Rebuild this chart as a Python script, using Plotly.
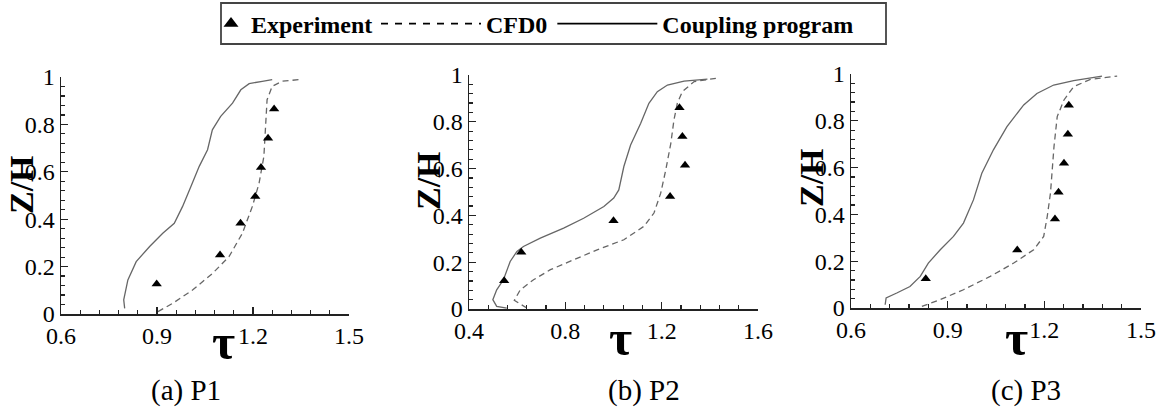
import plotly.graph_objects as go

# ---------------- data ----------------
# Panel (a) P1
p1_cpl_tau = [0.799, 0.796, 0.809, 0.835, 0.877, 0.918, 0.954, 0.980, 1.006, 1.032, 1.058, 1.073, 1.099, 1.136, 1.162, 1.188, 1.229, 1.260]
p1_cpl_z   = [0.024, 0.060, 0.144, 0.221, 0.285, 0.341, 0.383, 0.454, 0.538, 0.623, 0.693, 0.777, 0.834, 0.890, 0.946, 0.972, 0.982, 0.989]
p1_cfd_tau = [0.903, 0.949, 1.011, 1.074, 1.125, 1.167, 1.198, 1.219, 1.234, 1.239, 1.244, 1.260, 1.291, 1.343]
p1_cfd_z   = [0.010, 0.045, 0.101, 0.172, 0.242, 0.341, 0.454, 0.552, 0.665, 0.792, 0.904, 0.961, 0.982, 0.989]
p1_exp_tau = [0.899, 1.097, 1.161, 1.207, 1.225, 1.247, 1.266]
p1_exp_z   = [0.127, 0.249, 0.383, 0.496, 0.618, 0.742, 0.865]

# Panel (b) P2
p2_cpl_tau = [0.557, 0.515, 0.499, 0.515, 0.543, 0.560, 0.571, 0.599, 0.626, 0.696, 0.793, 0.876, 0.960, 1.001, 1.022, 1.043, 1.071, 1.113, 1.147, 1.182, 1.224, 1.293, 1.390]
p2_cpl_z   = [0.004, 0.011, 0.040, 0.082, 0.125, 0.168, 0.203, 0.246, 0.267, 0.303, 0.346, 0.388, 0.438, 0.474, 0.509, 0.609, 0.701, 0.794, 0.879, 0.929, 0.957, 0.974, 0.982]
p2_cfd_tau = [0.640, 0.588, 0.613, 0.668, 0.738, 0.835, 0.932, 1.043, 1.126, 1.168, 1.196, 1.217, 1.238, 1.251, 1.265, 1.286, 1.335, 1.425]
p2_cfd_z   = [0.004, 0.037, 0.082, 0.125, 0.168, 0.211, 0.253, 0.296, 0.353, 0.410, 0.495, 0.594, 0.708, 0.808, 0.879, 0.929, 0.972, 0.986]
p2_exp_tau = [0.546, 0.617, 1.000, 1.235, 1.297, 1.286, 1.274]
p2_exp_z   = [0.121, 0.243, 0.377, 0.481, 0.614, 0.737, 0.860]

# Panel (c) P3
p3_cpl_tau = [0.706, 0.709, 0.742, 0.783, 0.815, 0.840, 0.877, 0.918, 0.949, 0.980, 1.006, 1.042, 1.084, 1.136, 1.177, 1.229, 1.291, 1.379]
p3_cpl_z   = [0.014, 0.043, 0.064, 0.092, 0.135, 0.192, 0.249, 0.306, 0.363, 0.462, 0.576, 0.676, 0.775, 0.868, 0.917, 0.953, 0.972, 0.991]
p3_cfd_tau = [0.820, 0.877, 0.949, 1.032, 1.105, 1.167, 1.198, 1.209, 1.219, 1.224, 1.230, 1.240, 1.261, 1.291, 1.343, 1.426]
p3_cfd_z   = [0.007, 0.036, 0.078, 0.135, 0.192, 0.249, 0.306, 0.391, 0.491, 0.590, 0.690, 0.818, 0.889, 0.946, 0.977, 0.991]
p3_exp_tau = [0.832, 1.116, 1.233, 1.244, 1.261, 1.273, 1.276]
p3_exp_z   = [0.125, 0.248, 0.380, 0.495, 0.619, 0.742, 0.866]

captions = ["(a) P1", "(b) P2", "(c) P3"]
x_ranges = [[0.6, 1.5], [0.4, 1.6], [0.6, 1.5]]
x_dticks = [0.3, 0.4, 0.3]
legend_names = ["Experiment", "CFD0", "Coupling program"]

panels = [
    (p1_exp_tau, p1_exp_z, p1_cfd_tau, p1_cfd_z, p1_cpl_tau, p1_cpl_z),
    (p2_exp_tau, p2_exp_z, p2_cfd_tau, p2_cfd_z, p2_cpl_tau, p2_cpl_z),
    (p3_exp_tau, p3_exp_z, p3_cfd_tau, p3_cfd_z, p3_cpl_tau, p3_cpl_z),
]

# ---------------- layout geometry (pixels) ----------------
W, H = 1161, 410
px_x = [(61, 349), (469, 758), (851, 1141)]
px_y = [(77, 314), (75, 309), (74, 308)]   # (top, bottom)
zh_pos = [(22, 185), (429, 181), (811, 178)]
tau_pos = [(223, 342), (621, 338), (1016, 338)]
cap_pos = [(186, 390), (644, 390), (1026, 390)]

SERIF = "Liberation Serif, Times New Roman, serif"
LINE_COL = "#666666"

fig = go.Figure()

for i, (et, ez, ct, cz, pt, pz) in enumerate(panels):
    xa = "x" if i == 0 else f"x{i+1}"
    ya = "y" if i == 0 else f"y{i+1}"
    fig.add_trace(go.Scatter(x=ct, y=cz, mode="lines", xaxis=xa, yaxis=ya,
                             line=dict(color=LINE_COL, width=1.3, dash="6px,4px"),
                             showlegend=False))
    fig.add_trace(go.Scatter(x=pt, y=pz, mode="lines", xaxis=xa, yaxis=ya,
                             line=dict(color=LINE_COL, width=1.3),
                             showlegend=False))
    fig.add_trace(go.Scatter(x=et, y=ez, mode="markers", xaxis=xa, yaxis=ya,
                             marker=dict(symbol="triangle-up", size=9, color="black"),
                             showlegend=False))

# legend entries
fig.add_trace(go.Scatter(x=[None], y=[None], mode="markers", name=legend_names[0],
                         marker=dict(symbol="triangle-up", size=13, color="black"),
                         legend="legend"))
fig.add_trace(go.Scatter(x=[None], y=[None], mode="lines", name=legend_names[1],
                         line=dict(color="black", width=1.6, dash="7px,7px"),
                         legend="legend2"))
fig.add_trace(go.Scatter(x=[None], y=[None], mode="lines", name=legend_names[2],
                         line=dict(color="black", width=1.6),
                         legend="legend2"))

layout = dict(width=W, height=H, margin=dict(l=0, r=0, t=0, b=0, autoexpand=False),
              paper_bgcolor="white", plot_bgcolor="white", autosize=False)

for i in range(3):
    xk = "xaxis" if i == 0 else f"xaxis{i+1}"
    yk = "yaxis" if i == 0 else f"yaxis{i+1}"
    xa = "x" if i == 0 else f"x{i+1}"
    ya = "y" if i == 0 else f"y{i+1}"
    x0, x1 = px_x[i]
    yt, yb = px_y[i]
    axis_common = dict(showline=True, linecolor="#222", linewidth=1.5, mirror=False,
                       ticks="inside", ticklen=7, tickwidth=1.2, tickcolor="#222",
                       showgrid=False, zeroline=False, automargin=False,
                       tickfont=dict(family=SERIF, size=24, color="black"))
    layout[xk] = dict(axis_common, domain=[x0 / W, x1 / W], range=x_ranges[i],
                      tick0=x_ranges[i][0], dtick=x_dticks[i], anchor=ya,
                      minor=dict(ticks="inside", ticklen=4, tickcolor="#222",
                                 dtick=x_dticks[i] / 5, tick0=x_ranges[i][0], showgrid=False))
    layout[yk] = dict(axis_common, domain=[(H - yb) / H, (H - yt) / H], range=[0, 1],
                      tick0=0, dtick=0.2, anchor=xa,
                      minor=dict(ticks="inside", ticklen=4, tickcolor="#222",
                                 dtick=0.04, tick0=0, showgrid=False))

annotations = []
for i in range(3):
    zx, zy = zh_pos[i]
    annotations.append(dict(text="Z/H", x=zx / W, y=(H - zy) / H, xref="paper", yref="paper",
                            showarrow=False, textangle=-90, xanchor="center", yanchor="middle",
                            font=dict(family=SERIF, size=34, color="black", weight="bold")))
    tx, ty = tau_pos[i]
    annotations.append(dict(text="τ", x=tx / W, y=(H - ty) / H, xref="paper", yref="paper",
                            showarrow=False, xanchor="center", yanchor="middle",
                            font=dict(family=SERIF, size=50, color="black", weight="bold")))
    cx, cy = cap_pos[i]
    annotations.append(dict(text=captions[i], x=cx / W, y=(H - cy) / H, xref="paper", yref="paper",
                            showarrow=False, xanchor="center", yanchor="middle",
                            font=dict(family=SERIF, size=29, color="black")))
layout["annotations"] = annotations

leg_font = dict(family=SERIF, size=24, color="black", weight="bold")
layout["legend"] = dict(orientation="h", x=211 / W, xanchor="left", y=(H - 24) / H, yanchor="middle",
                        font=leg_font, bgcolor="rgba(0,0,0,0)", borderwidth=0, itemwidth=30)
layout["legend2"] = dict(orientation="h", x=376 / W, xanchor="left", y=(H - 24) / H, yanchor="middle",
                         font=leg_font, bgcolor="rgba(0,0,0,0)", borderwidth=0, itemwidth=100)
layout["shapes"] = [dict(type="rect", xref="paper", yref="paper",
                         x0=221 / W, x1=886 / W, y0=(H - 44) / H, y1=(H - 3) / H,
                         line=dict(color="#444", width=1.8), fillcolor="rgba(0,0,0,0)")]

fig.update_layout(**layout)
fig.write_html("out.html",
               config={"displayModeBar": False, "staticPlot": True},
               post_script="document.body.style.margin='0';document.body.style.padding='0';"
                           "document.documentElement.style.overflow='hidden';")
